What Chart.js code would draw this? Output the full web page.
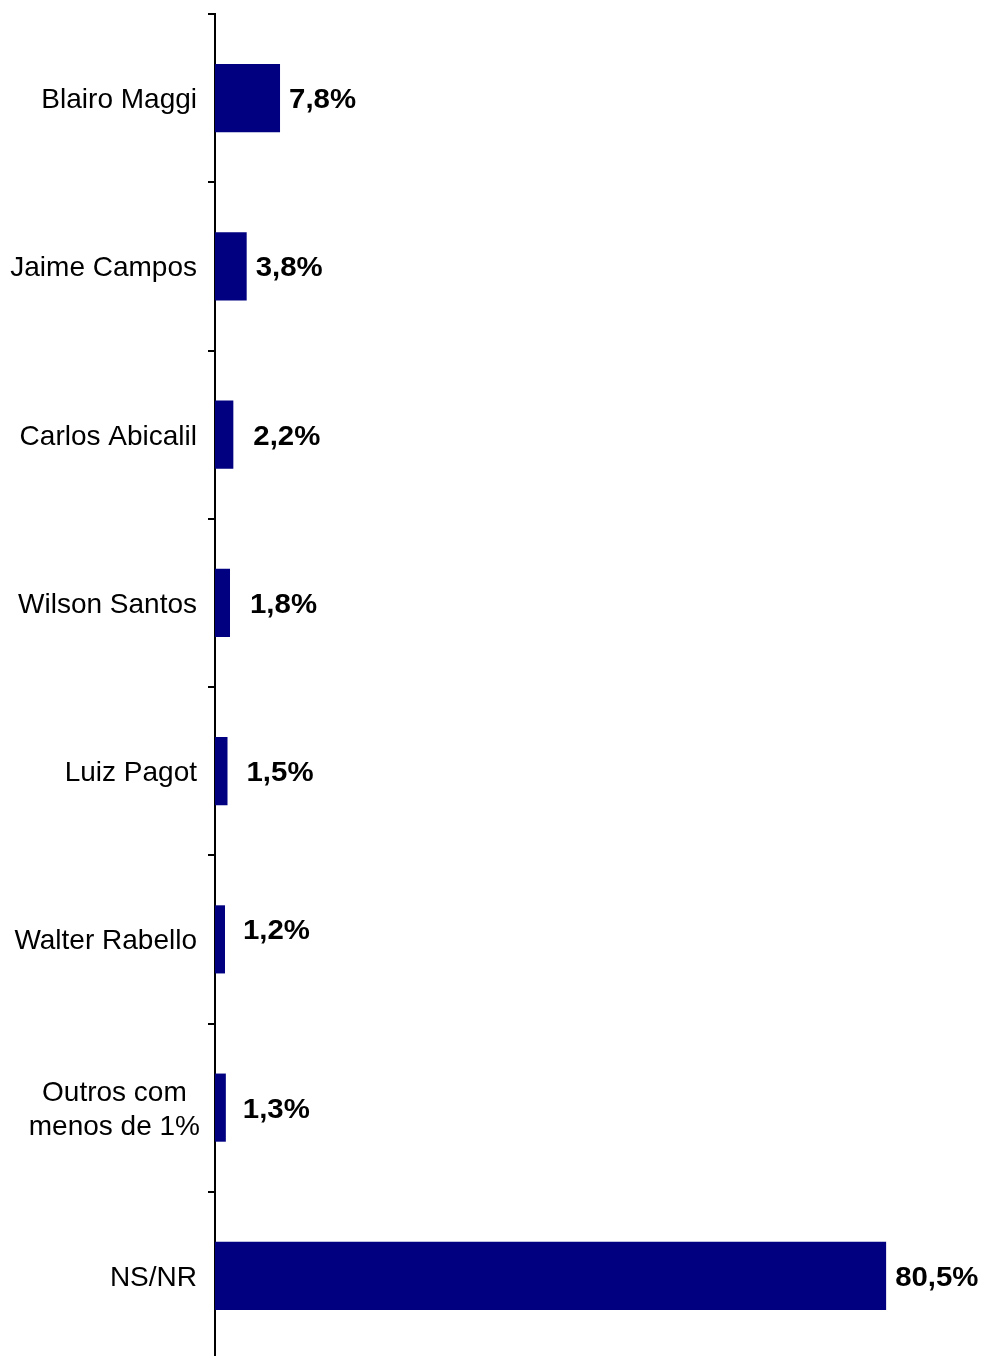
<!DOCTYPE html>
<html>
<head>
<meta charset="utf-8">
<script src="https://cdn.jsdelivr.net/npm/chart.js@4.4.0/dist/chart.umd.min.js"></script>
<style>
  html, body { margin: 0; padding: 0; background: #fff; overflow: hidden; }
  #wrap { width: 985px; height: 1362px; position: relative; }
</style>
</head>
<body>
<div id="wrap"><canvas id="myChart"></canvas></div>
<script>
// candidatos e percentuais
var candidatos = ["Blairo Maggi", "Jaime Campos", "Carlos Abicalil", "Wilson Santos",
  "Luiz Pagot", "Walter Rabello", ["Outros com", "menos de 1%"], "NS/NR"];
var percentuais = [7.8, 3.8, 2.2, 1.8, 1.5, 1.2, 1.3, 80.5];
var rotulos = ["7,8%", "3,8%", "2,2%", "1,8%", "1,5%", "1,2%", "1,3%", "80,5%"];

var FONTE = '"Liberation Sans", Arial, sans-serif';

// desenha os nomes do eixo (multi-linha centralizado)
var nomesPlugin = {
  id: "nomes",
  afterDraw: function(chart) {
    var ctx = chart.ctx;
    var y = chart.scales.y;
    var xRight = chart.chartArea.left - 18;
    ctx.save();
    ctx.fillStyle = "#000";
    ctx.font = "28px " + FONTE;
    ctx.textBaseline = "alphabetic";
    candidatos.forEach(function(c, i) {
      var cy = y.getPixelForValue(i);
      if (Array.isArray(c)) {
        var larg = Math.max.apply(null, c.map(function(l) { return ctx.measureText(l).width; }));
        var cx = xRight + 3 - larg / 2;
        ctx.textAlign = "center";
        var lh = 34;
        c.forEach(function(l, j) {
          var ly = cy + (j - (c.length - 1) / 2) * lh;
          ctx.fillText(l, cx, ly + 10);
        });
      } else {
        ctx.textAlign = "right";
        ctx.fillText(c, xRight, cy + 10);
      }
    });
    ctx.restore();
  }
};

// valores ao lado das barras (barras finas: rotulo um pouco mais afastado, como no original)
var valoresPlugin = {
  id: "valores",
  afterDatasetsDraw: function(chart) {
    var ctx = chart.ctx;
    var meta = chart.getDatasetMeta(0);
    var extraX = [0, 0, 11, 11, 10, 9, 8, 0];
    var extraY = [0, 0, 0, 0, 0, -10, 0, 0];
    ctx.save();
    ctx.fillStyle = "#000";
    ctx.font = "bold 28px " + FONTE;
    ctx.textAlign = "left";
    ctx.textBaseline = "alphabetic";
    meta.data.forEach(function(bar, i) {
      ctx.save();
      ctx.translate(bar.x + 9 + extraX[i], bar.y + 10 + extraY[i]);
      ctx.scale(1.05, 1);
      ctx.fillText(rotulos[i], 0, 0);
      ctx.restore();
    });
    ctx.restore();
  }
};

var ctx = document.getElementById("myChart").getContext("2d");
var chart = new Chart(ctx, {
  type: "bar",
  data: {
    labels: candidatos,
    datasets: [{
      data: percentuais,
      backgroundColor: "#000080",
      borderWidth: 0,
      barPercentage: 1,
      categoryPercentage: 0.405
    }]
  },
  options: {
    indexAxis: "y",
    responsive: true,
    maintainAspectRatio: false,
    animation: false,
    layout: { padding: { top: 14, bottom: 2, right: 3, left: 0 } },
    plugins: { legend: { display: false }, tooltip: { enabled: false } },
    scales: {
      x: { display: false, min: 0, max: 92 },
      y: {
        afterFit: function(scale) { scale.width = 215; },
        ticks: { display: false },
        grid: {
          drawOnChartArea: false,
          drawTicks: true,
          tickLength: 7,
          color: "#000",
          lineWidth: 2,
          offset: true
        },
        border: { display: true, color: "#000", width: 2 }
      }
    }
  },
  plugins: [nomesPlugin, valoresPlugin]
});
</script>
</body>
</html>
